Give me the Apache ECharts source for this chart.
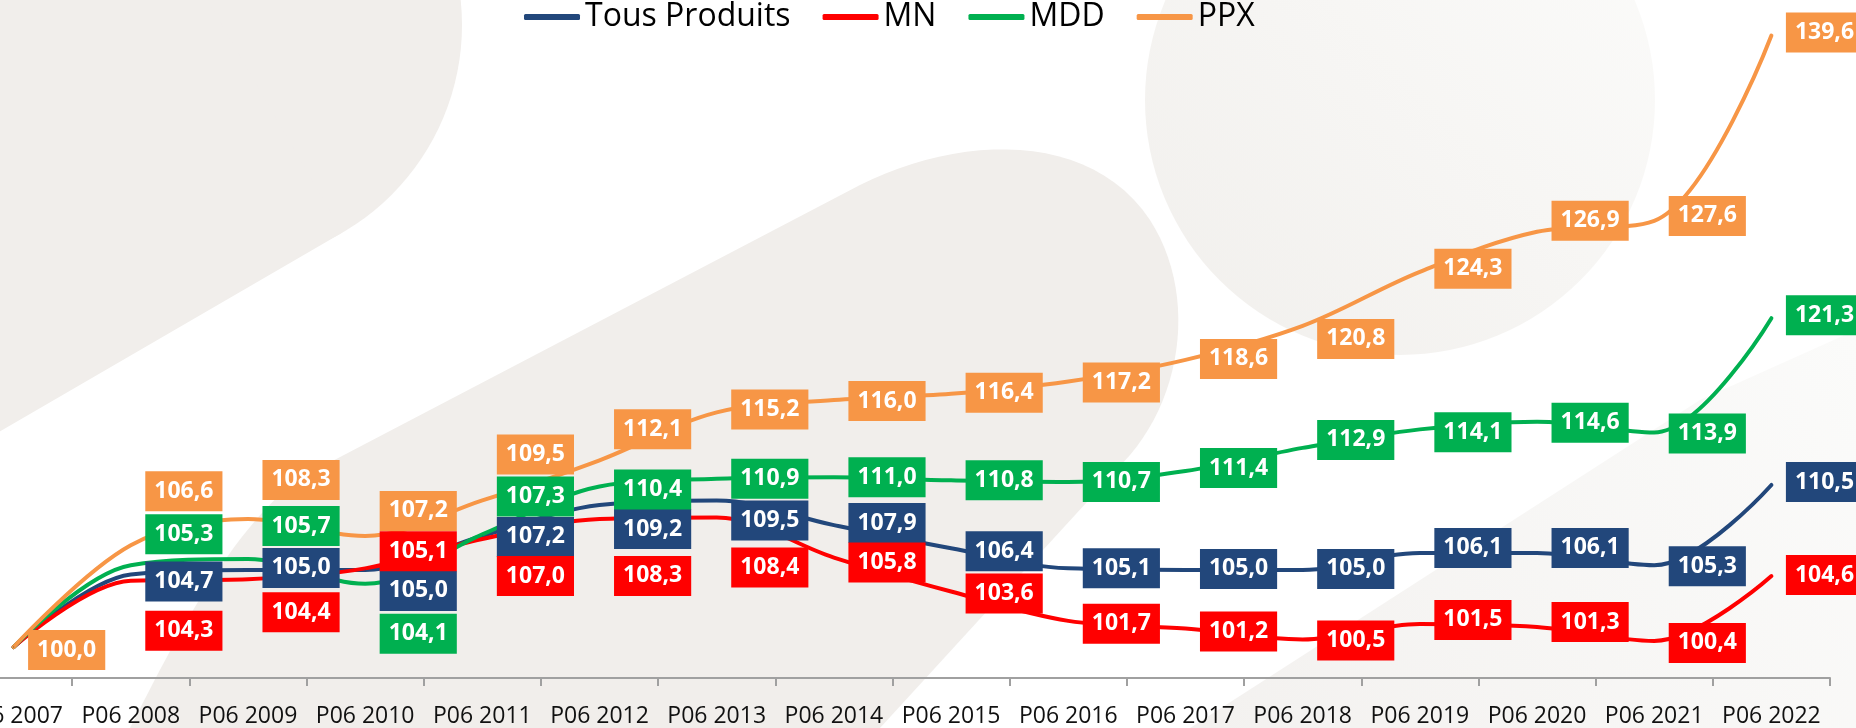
<!DOCTYPE html>
<html>
<head>
<meta charset="utf-8">
<script src="https://cdn.jsdelivr.net/npm/echarts@6/dist/echarts.min.js"></script>
<style>
  html, body { margin: 0; padding: 0; background: #ffffff; overflow: hidden; width: 1856px; height: 728px; }
  /* the original chart's first category is cut by the left edge of the picture */
  #chart { position: absolute; left: -45px; top: 0; width: 1901px; height: 728px; }
</style>
</head>
<body>
<div id="chart"></div>
<script>
// ---------- data ----------
const categories = ['P06 2007', 'P06 2008', 'P06 2009', 'P06 2010', 'P06 2011', 'P06 2012', 'P06 2013', 'P06 2014',
  'P06 2015', 'P06 2016', 'P06 2017', 'P06 2018', 'P06 2019', 'P06 2020', 'P06 2021', 'P06 2022'];
const tousProduits = [100.0, 104.7, 105.0, 105.0, 107.2, 109.2, 109.5, 107.9, 106.4, 105.1, 105.0, 105.0, 106.1, 106.1, 105.3, 110.5];
const mn = [100.0, 104.3, 104.4, 105.1, 107.0, 108.3, 108.4, 105.8, 103.6, 101.7, 101.2, 100.5, 101.5, 101.3, 100.4, 104.6];
const mdd = [100.0, 105.3, 105.7, 104.1, 107.3, 110.4, 110.9, 111.0, 110.8, 110.7, 111.4, 112.9, 114.1, 114.6, 113.9, 121.3];
const ppx = [100.0, 106.6, 108.3, 107.2, 109.5, 112.1, 115.2, 116.0, 116.4, 117.2, 118.6, 120.8, 124.3, 126.9, 127.6, 139.6];
const seriesNames = ['Tous Produits', 'MN', 'MDD', 'PPX'];

// ---------- label layout (vertical shift of each value box, px; null = hidden) ----------
const shiftTP = [null, 7, -2, 21, 1, 24, 20, -2, 3, 0, -1, -1, -5, -5, 1, -3];
const shiftMN = [null, 50, 33, -17, 37, 57, 50, 5, 2, 3, 3, 1, -4, -5, 2, -1];
const shiftMDD = [null, -31, -33, 50, -38, 3, 0, 0, 0, 0, -3, -8, 3, 1, 1, -3];
const shiftPPX = [3, -54, -39, -25, -46, -31, -3, 1, -1, 1, -1, 13, -3, -11, -5, -3];

const colors = ['#22477b', '#ff0000', '#00b050', '#f79646'];
const FONT = 'Open Sans';

function fmt(v) { return v.toFixed(1).replace('.', ','); }

// decorative background outline: start point then cubic segments / lines
function outline(start, segs) {
  const pts = [start];
  let cur = start;
  segs.forEach(s => {
    if (s.length === 1) { pts.push(s[0]); cur = s[0]; return; }
    const [c1, c2, e] = s;
    for (let k = 1; k <= 24; k++) {
      const t = k / 24, u = 1 - t;
      pts.push([
        u * u * u * cur[0] + 3 * u * u * t * c1[0] + 3 * u * t * t * c2[0] + t * t * t * e[0],
        u * u * u * cur[1] + 3 * u * u * t * c1[1] + 3 * u * t * t * c2[1] + t * t * t * e[1]
      ]);
    }
    cur = e;
  });
  return pts;
}

function buildSeries(name, values, shifts, color) {
  return {
    name: name,
    type: 'line',
    data: values.map((v, i) => ({
      value: v,
      label: shifts[i] === null ? { show: false } : { offset: [0, shifts[i]] }
    })),
    smooth: 0.35,
    showSymbol: true,
    symbol: 'circle',
    symbolSize: 1,
    itemStyle: { color: color },
    lineStyle: { color: color, width: 4, cap: 'round' },
    label: {
      show: true,
      position: 'right',
      distance: 14,
      formatter: p => fmt(p.value),
      color: '#ffffff',
      fontFamily: FONT,
      fontWeight: 'bold',
      fontSize: 23,
      lineHeight: 24,
      backgroundColor: color,
      padding: [8, 9, 8, 9]
    },
    emphasis: { disabled: true },
    z: 3
  };
}

const chart = echarts.init(document.getElementById('chart'), null, { renderer: 'canvas' });

const bandPts = outline([130, 728], [
  [[175, 640], [230, 530], [300, 478]],
  [[860, 185]],
  [[960, 135], [1090, 130], [1150, 220]],
  [[1195, 290], [1185, 390], [1130, 455]],
  [[880, 728]]
]);

const BG = '#f1eeeb';

const option = {
  backgroundColor: '#ffffff',
  animation: false,
  graphic: [{
    type: 'group', x: 45, y: 0, z: -10, silent: true,
    children: [
      { type: 'circle', z: -10, shape: { cx: 222, cy: 25, r: 240 }, style: { fill: BG } },
      { type: 'polygon', z: -10, shape: { points: [[342.5, 232.6], [101.5, -182.6], [-763.5, 319.4], [-522.5, 734.6]] }, style: { fill: BG } },
      { type: 'polygon', z: -10, shape: { points: bandPts }, style: { fill: BG } },
      {
        type: 'circle', z: -10,
        shape: { cx: 1400, cy: 100, r: 255 },
        style: {
          fill: new echarts.graphic.LinearGradient(0, 1, 1, 0, [{ offset: 0, color: '#f1efec' }, { offset: 1, color: '#fcfcfb' }])
        }
      },
      {
        type: 'polygon', z: -10,
        shape: { points: [[1190, 728], [1700, 400], [1856, 330], [1856, 728]] },
        style: {
          fill: new echarts.graphic.LinearGradient(0, 1, 1, 0, [{ offset: 0, color: '#f3f1ef' }, { offset: 1, color: '#fbfbfa' }])
        }
      }
    ]
  }],
  legend: {
    data: seriesNames,
    left: 569,
    top: -1,
    padding: 0,
    icon: 'roundRect',
    itemWidth: 56,
    itemHeight: 6,
    itemGap: 32,
    selectedMode: false,
    textStyle: { fontFamily: FONT, fontSize: 32, color: '#000000', lineHeight: 36 }
  },
  grid: { left: 0, right: 26, top: 29.4, bottom: 48, containLabel: false },
  xAxis: {
    type: 'category',
    data: categories,
    boundaryGap: true,
    axisLine: { show: true, lineStyle: { color: '#a0a0a0', width: 2 } },
    axisTick: { show: true, length: 8, lineStyle: { color: '#a0a0a0', width: 2 } },
    axisLabel: { fontFamily: FONT, fontSize: 23, color: '#111111', margin: 27, interval: 0 },
    splitLine: { show: false }
  },
  yAxis: {
    type: 'value',
    min: 98,
    max: 140,
    show: false,
    splitLine: { show: false }
  },
  series: [
    buildSeries(seriesNames[0], tousProduits, shiftTP, colors[0]),
    buildSeries(seriesNames[1], mn, shiftMN, colors[1]),
    buildSeries(seriesNames[2], mdd, shiftMDD, colors[2]),
    buildSeries(seriesNames[3], ppx, shiftPPX, colors[3])
  ]
};

chart.setOption(option);
</script>
</body>
</html>
